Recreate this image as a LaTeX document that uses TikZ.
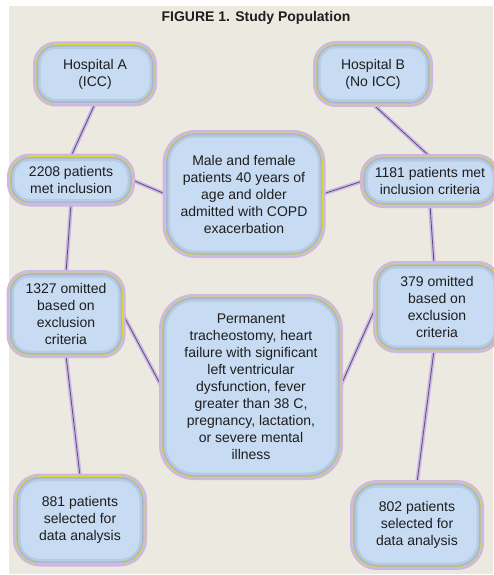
\documentclass[tikz,border=0pt]{standalone}
\usepackage{fontspec}
\setmainfont{Liberation Sans}
\definecolor{bg}{HTML}{ECE9E0}
\definecolor{boxfill}{HTML}{C7DBF2}
\definecolor{boxedge}{HTML}{A4B7CE}
\definecolor{boxmid}{HTML}{B7CAE1}
\definecolor{glow}{HTML}{CDB8E3}
\definecolor{rimy}{HTML}{DED83A}
\definecolor{linkc}{HTML}{5E4B85}
\definecolor{txt}{HTML}{1E1E1E}
\pgfdeclarelayer{paper}
\pgfdeclarelayer{links}
\pgfsetlayers{paper,links,main}
\tikzset{
  bubble/.style={
    preaction={draw=glow, line width=6pt},
    fill=boxfill,
    rounded corners=#1,
    path picture={
      \draw[boxmid, line width=9pt, rounded corners=#1]
        (path picture bounding box.south west) rectangle (path picture bounding box.north east);
      \draw[boxedge, line width=4pt, rounded corners=#1]
        (path picture bounding box.south west) rectangle (path picture bounding box.north east);
    },
    postaction={draw=rimy, line width=0.7pt},
    align=center, text=txt, inner sep=0pt,
    font=\fontsize{14}{17}\selectfont},
  bubble/.default=20pt,
  link/.style={draw=linkc, line width=0.8pt,
    preaction={draw=glow, line width=4pt}},
}
\begin{document}
\begin{tikzpicture}[x=1pt,y=-1pt]
\useasboundingbox (0,0) rectangle (493,575);
\begin{pgfonlayer}{paper}
\fill[white] (0,0) rectangle (493,575);
\fill[bg] (9,6) rectangle (493,574);
\end{pgfonlayer}
\node[font=\bfseries\fontsize{14}{16}\selectfont, text=txt] (title) at (256,18) {FIGURE 1. Study Population};

\node[bubble, minimum width=118pt, minimum height=59pt] (hA) at (95,74) {Hospital A\\(ICC)};
\node[bubble, minimum width=114pt, minimum height=60pt] (hB) at (373,74) {Hospital B\\(No ICC)};
\node[bubble, minimum width=122pt, minimum height=47pt] (pA) at (71,180) {2208 patients\\met inclusion};
\node[bubble=30pt, minimum width=157pt, minimum height=122pt] (pop) at (244,194) {Male and female\\patients 40 years of\\age and older\\admitted with COPD\\exacerbation};
\node[bubble, minimum width=134pt, minimum height=48pt] (pB) at (430,181) {1181 patients met\\inclusion criteria};
\node[bubble, minimum width=113pt, minimum height=82pt] (oA) at (66,314) {1327 omitted\\based on\\exclusion\\criteria};
\node[bubble=32pt, minimum width=178pt, minimum height=180pt] (excl) at (251,387) {Permanent\\tracheostomy, heart\\failure with significant\\left ventricular\\dysfunction, fever\\greater than 38 C,\\pregnancy, lactation,\\or severe mental\\illness};
\node[bubble, minimum width=122pt, minimum height=86pt] (oB) at (437,307) {379 omitted\\based on\\exclusion\\criteria};
\node[bubble=24pt, minimum width=128pt, minimum height=87pt] (sA) at (80,520) {881 patients\\selected for\\data analysis};
\node[bubble=24pt, minimum width=128pt, minimum height=84pt] (sB) at (417,525) {802 patients\\selected for\\data analysis};

\begin{pgfonlayer}{links}
\draw[link] (hA.south) -- (pA.north);
\draw[link] (hB.south) -- (pB.north);
\draw[link] (pA.east) -- (pop.west);
\draw[link] (pop.east) -- (pB.west);
\draw[link] (pA.south) -- (oA.north);
\draw[link] (pB.south) -- ([xshift=-3pt]oB.north);
\draw[link] (oA.east) -- (excl.west);
\draw[link] (oB.west) -- (excl.east);
\draw[link] (oA.south) -- (sA.north);
\draw[link] ([xshift=-3pt]oB.south) -- (sB.north);
\end{pgfonlayer}
\end{tikzpicture}
\end{document}
